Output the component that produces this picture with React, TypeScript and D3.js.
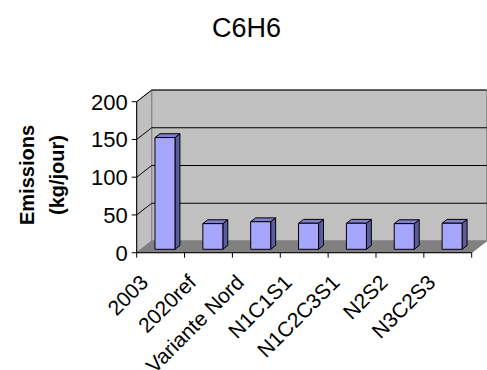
import React from "react";
import * as d3 from "d3";

const title = "C6H6";
const categories = ["2003", "2020ref", "Variante Nord", "N1C1S1", "N1C2C3S1", "N2S2", "N3C2S3"];
const values = [148, 34, 36.5, 34.5, 34.5, 34, 34.5];
const yTicks = [0, 50, 100, 150, 200];
const yTitleLines = ["Emissions", "(kg/jour)"];

const W = 487;
const H = 370;
const X0 = 136.7;
const X1 = 471.7;
const Y0 = 252.7;
const Y1 = 101.7;
const DX = 15;
const DY = -11.7;
const F1 = 0.29;
const F2 = 0.62;

export default function App() {
  const x = d3.scaleBand<string>().domain(categories).range([X0, X1]).paddingInner(0).paddingOuter(0);
  const y = d3.scaleLinear().domain([0, 200]).range([Y0, Y1]);
  const bw = 20;
  const font = "Arial, 'Liberation Sans', sans-serif";

  const pt = (px: number, py: number, f: number) => `${px + DX * f},${py + DY * f}`;

  return (
    <svg width={W} height={H} style={{ position: "absolute", left: 0, top: 0 }} fontFamily={font}>
      <rect width={W} height={H} fill="#ffffff" />
      <text x={246.5} y={37} textAnchor="middle" fontSize={27} fill="#000">{title}</text>
      {/* back wall */}
      <polygon
        points={[pt(X0, Y1, 1), pt(X1, Y1, 1), pt(X1, Y0, 1), pt(X0, Y0, 1)].join(" ")}
        fill="#c0c0c0"
        stroke="#808080"
        strokeWidth={1}
      />
      {/* left wall */}
      <polygon
        points={[pt(X0, Y1, 0), pt(X0, Y1, 1), pt(X0, Y0, 1), pt(X0, Y0, 0)].join(" ")}
        fill="#c0c0c0"
        stroke="#808080"
        strokeWidth={1}
      />
      {/* floor */}
      <polygon
        points={[pt(X0, Y0, 0), pt(X1, Y0, 0), pt(X1, Y0, 1), pt(X0, Y0, 1)].join(" ")}
        fill="#808080"
        stroke="#808080"
        strokeWidth={1}
      />
      {/* gridlines */}
      {yTicks.filter((t) => t > 0).map((t) => (
        <g key={"g" + t}>
          <line x1={X0} y1={y(t)} x2={X0 + DX} y2={y(t) + DY} stroke="#000" strokeWidth={1} />
          <line x1={X0 + DX} y1={y(t) + DY} x2={X1 + DX} y2={y(t) + DY} stroke="#000" strokeWidth={1} />
        </g>
      ))}
      {/* bars */}
      {categories.map((c, i) => {
        const v = values[i];
        const bx = (x(c) as number) + (x.bandwidth() - bw) / 2;
        const fx = bx + DX * F1;
        const fyTop = y(v) + DY * F1;
        const fyBot = y(0) + DY * F1;
        const ddx = DX * (F2 - F1);
        const ddy = DY * (F2 - F1);
        return (
          <g key={c} stroke="#000" strokeWidth={1} strokeLinejoin="round">
            <polygon
              points={`${fx + bw},${fyTop} ${fx + bw + ddx},${fyTop + ddy} ${fx + bw + ddx},${fyBot + ddy} ${fx + bw},${fyBot}`}
              fill="#5c5c99"
            />
            <polygon
              points={`${fx},${fyTop} ${fx + ddx},${fyTop + ddy} ${fx + bw + ddx},${fyTop + ddy} ${fx + bw},${fyTop}`}
              fill="#7f7fcc"
            />
            <rect x={fx} y={fyTop} width={bw} height={fyBot - fyTop} fill="#a6a6ff" />
          </g>
        );
      })}
      {/* y axis */}
      <line x1={X0} y1={Y1} x2={X0} y2={Y0} stroke="#000" strokeWidth={1} />
      {yTicks.map((t) => (
        <g key={"t" + t}>
          <line x1={X0 - 5} y1={y(t)} x2={X0} y2={y(t)} stroke="#000" strokeWidth={1} />
          <text x={X0 - 9} y={y(t)} dy="0.36em" textAnchor="end" fontSize={22} fill="#000">{t}</text>
        </g>
      ))}
      {/* x axis */}
      <line x1={X0} y1={Y0} x2={X1} y2={Y0} stroke="#000" strokeWidth={1} />
      {d3.range(categories.length + 1).map((i) => {
        const tx = X0 + i * x.bandwidth();
        return <line key={"xt" + i} x1={tx} y1={Y0} x2={tx} y2={Y0 + 5} stroke="#000" strokeWidth={1} />;
      })}
      {categories.map((c) => {
        const cx = (x(c) as number) + x.bandwidth() / 2 - 11;
        const cy = Y0 + 31;
        return (
          <text key={"l" + c} x={cx} y={cy} transform={`rotate(-45 ${cx} ${cy})`} textAnchor="end" fontSize={21} fill="#000">
            {c}
          </text>
        );
      })}
      {/* y title */}
      <g fontWeight="bold" fontSize={20}>
        <text x={0} y={0} transform={`translate(34,175) rotate(-90)`} textAnchor="middle">{yTitleLines[0]}</text>
        <text x={0} y={0} transform={`translate(64,175) rotate(-90)`} textAnchor="middle">{yTitleLines[1]}</text>
      </g>
    </svg>
  );
}
